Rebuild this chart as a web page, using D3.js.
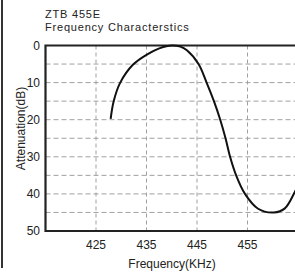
<!DOCTYPE html>
<html><head><meta charset="utf-8">
<script src="https://cdn.jsdelivr.net/npm/d3@7"></script>
<style>body{margin:0;background:#fff}svg{display:block}text{font-family:"Liberation Sans",Arial,sans-serif;fill:#222}</style>
</head><body>
<svg id="c" width="295" height="272"></svg>
<script>
const titleLines = ["ZTB 455E", "Frequency Characterstics"];
const xTicks = [425, 435, 445, 455];
const yTicks = [0, 10, 20, 30, 40, 50];
const freq = [427.9, 428.5, 429.8, 432.3, 435.0, 438.3, 440.0, 441.7, 443.0, 445.3, 446.9, 448.35, 449.6, 450.65, 451.55, 452.75, 454.5, 457.1, 460.2, 462.4, 464.4, 465.5];
const atten = [19.8, 15.0, 10.0, 5.2, 2.5, 0.4, 0.0, 0.3, 1.3, 5.0, 10.0, 15.0, 20.0, 25.0, 30.0, 35.0, 40.0, 44.0, 45.0, 43.9, 39.4, 36.5];

const svg = d3.select("#c");
const L = 45.5, R = 298, T = 45.5, B = 231;
const x = d3.scaleLinear().domain([415, 465]).range([L, R]);
const y = d3.scaleLinear().domain([0, 50]).range([T, B]);

// left border
svg.append("line").attr("x1", 2).attr("x2", 2).attr("y1", 0).attr("y2", 268)
  .attr("stroke", "#333").attr("stroke-width", 2);

// grid
const hg = d3.range(5, 50, 5);
svg.append("g").selectAll("line").data(hg).join("line")
  .attr("x1", L).attr("x2", R).attr("y1", d => y(d)).attr("y2", d => y(d))
  .attr("stroke", "#a0a0a0").attr("stroke-width", 1).attr("stroke-dasharray", "5,3");
svg.append("g").selectAll("line").data(xTicks).join("line")
  .attr("x1", d => x(d)).attr("x2", d => x(d)).attr("y1", T).attr("y2", B)
  .attr("stroke", "#a0a0a0").attr("stroke-width", 1).attr("stroke-dasharray", "4,3");

// axes frame
svg.append("path").attr("d", `M${R},${T}H${L}V${B}H${R}`)
  .attr("fill", "none").attr("stroke", "#222").attr("stroke-width", 2.2);

// tick labels
svg.append("g").selectAll("text").data(yTicks).join("text")
  .attr("x", 40).attr("y", d => y(d)).attr("dy", "0.36em")
  .attr("text-anchor", "end").attr("font-size", 12).text(d => d);
svg.append("g").selectAll("text").data(xTicks).join("text")
  .attr("x", d => x(d)).attr("y", 249)
  .attr("text-anchor", "middle").attr("font-size", 12).text(d => d);

// axis titles
svg.append("text").attr("x", 172).attr("y", 268).attr("text-anchor", "middle")
  .attr("font-size", 12).text("Frequency(KHz)");
svg.append("text").attr("transform", "translate(25,128.5) rotate(-90)")
  .attr("text-anchor", "middle").attr("font-size", 12).text("Attenuation(dB)");

// title
svg.append("g").selectAll("text").data(titleLines).join("text")
  .attr("x", 45).attr("y", (d, i) => 17.5 + i * 13.5)
  .attr("font-size", 11).attr("letter-spacing", 0.8).text(d => d);

// curve
const pts = freq.map((f, i) => [f, atten[i]]);
svg.append("path").datum(pts)
  .attr("d", d3.line().x(d => x(d[0])).y(d => y(d[1])).curve(d3.curveCatmullRom.alpha(0.5)))
  .attr("fill", "none").attr("stroke", "#111").attr("stroke-width", 2);
</script>
</body></html>
